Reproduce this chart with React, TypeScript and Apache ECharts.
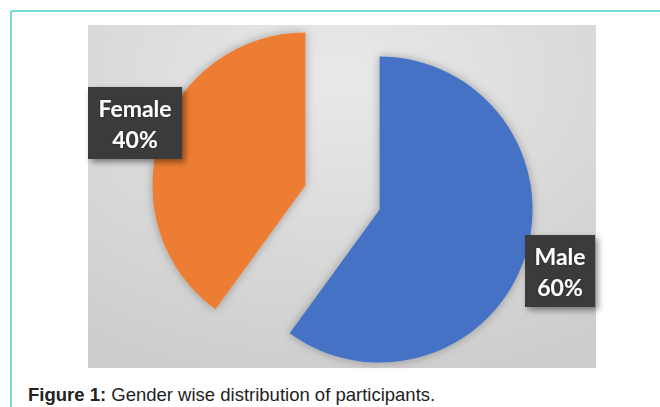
import React, { useEffect, useRef } from "react";
import * as echarts from "echarts";

const categories = ["Male", "Female"];
const values = [60, 40];
const colors = ["#4472C4", "#ED7D31"];
const captionBold = "Figure 1:";
const captionText = " Gender wise distribution of participants.";

export default function App() {
  const ref = useRef<HTMLDivElement>(null);
  useEffect(() => {
    if (!ref.current) return;
    const chart = echarts.init(ref.current, null, { renderer: "svg" });
    const total = values.reduce((a, b) => a + b, 0);
    const labelBoxes: Record<string, { cx: number; cy: number; w: number; h: number }> = {
      Male: { cx: 560, cy: 271, w: 70, h: 72 },
      Female: { cx: 135, cy: 123, w: 94, h: 72 },
    };
    const labelGraphics: any[] = [];
    categories.forEach((c, i) => {
      const b = labelBoxes[c];
      labelGraphics.push({
        type: "rect",
        z: 20,
        shape: { x: b.cx - b.w / 2, y: b.cy - b.h / 2, width: b.w, height: b.h },
        style: {
          fill: "#3a3a3a",
          shadowBlur: 6,
          shadowOffsetX: 3,
          shadowOffsetY: 3,
          shadowColor: "rgba(0,0,0,0.45)",
        },
      });
      labelGraphics.push({
        type: "text",
        z: 21,
        x: b.cx,
        y: b.cy,
        style: {
          text: c + "\n" + Math.round((values[i] / total) * 100) + "%",
          fontFamily: "Lato",
          fontWeight: "bold",
          fontSize: 23,
          lineHeight: 31,
          fill: "#ffffff",
          align: "center",
          verticalAlign: "middle",
          textShadowBlur: 2,
          textShadowColor: "rgba(0,0,0,0.4)",
        },
      });
    });
    chart.setOption({
      animation: false,
      graphic: [
        {
          type: "rect",
          z: -10,
          shape: { x: 88, y: 25, width: 508, height: 343 },
          style: {
            fill: new echarts.graphic.RadialGradient(0.5, 0.15, 0.9, [
              { offset: 0, color: "#e9e9e9" },
              { offset: 1, color: "#cdcdcd" },
            ]),
          },
        },
        {
          type: "line",
          z: -5,
          shape: { x1: 11, y1: 11, x2: 660, y2: 11 },
          style: { stroke: "#45d2c2", lineWidth: 1.5 },
        },
        {
          type: "line",
          z: -5,
          shape: { x1: 11, y1: 11, x2: 11, y2: 407 },
          style: { stroke: "#45d2c2", lineWidth: 1.5 },
        },
        {
          type: "text",
          x: 28,
          y: 394,
          style: {
            text: "{b|" + captionBold + "}{n|" + captionText + "}",
            verticalAlign: "middle",
            rich: {
              b: { fontFamily: "Liberation Sans", fontSize: 18.5, fontWeight: "bold", fill: "#222" },
              n: { fontFamily: "Liberation Sans", fontSize: 18.5, fill: "#222" },
            },
          },
        },
        ...labelGraphics,
      ],
      series: [
        {
          type: "pie",
          center: [342.5, 197.5],
          radius: 153,
          startAngle: 90,
          clockwise: true,
          selectedMode: "multiple",
          selectedOffset: 39,
          avoidLabelOverlap: false,
          emphasis: { disabled: true },
          itemStyle: {
            shadowBlur: 10,
            shadowColor: "rgba(0,0,0,0.3)",
          },
          label: { show: false },
          labelLine: { show: false },
          data: categories.map((c, i) => ({
            name: c,
            value: values[i],
            selected: true,
            itemStyle: { color: colors[i] },
          })),
        },
      ],
    });
    return () => chart.dispose();
  }, []);
  return (
    <div
      ref={ref}
      style={{ position: "fixed", left: 0, top: 0, width: 660, height: 407, background: "#fff" }}
    />
  );
}
